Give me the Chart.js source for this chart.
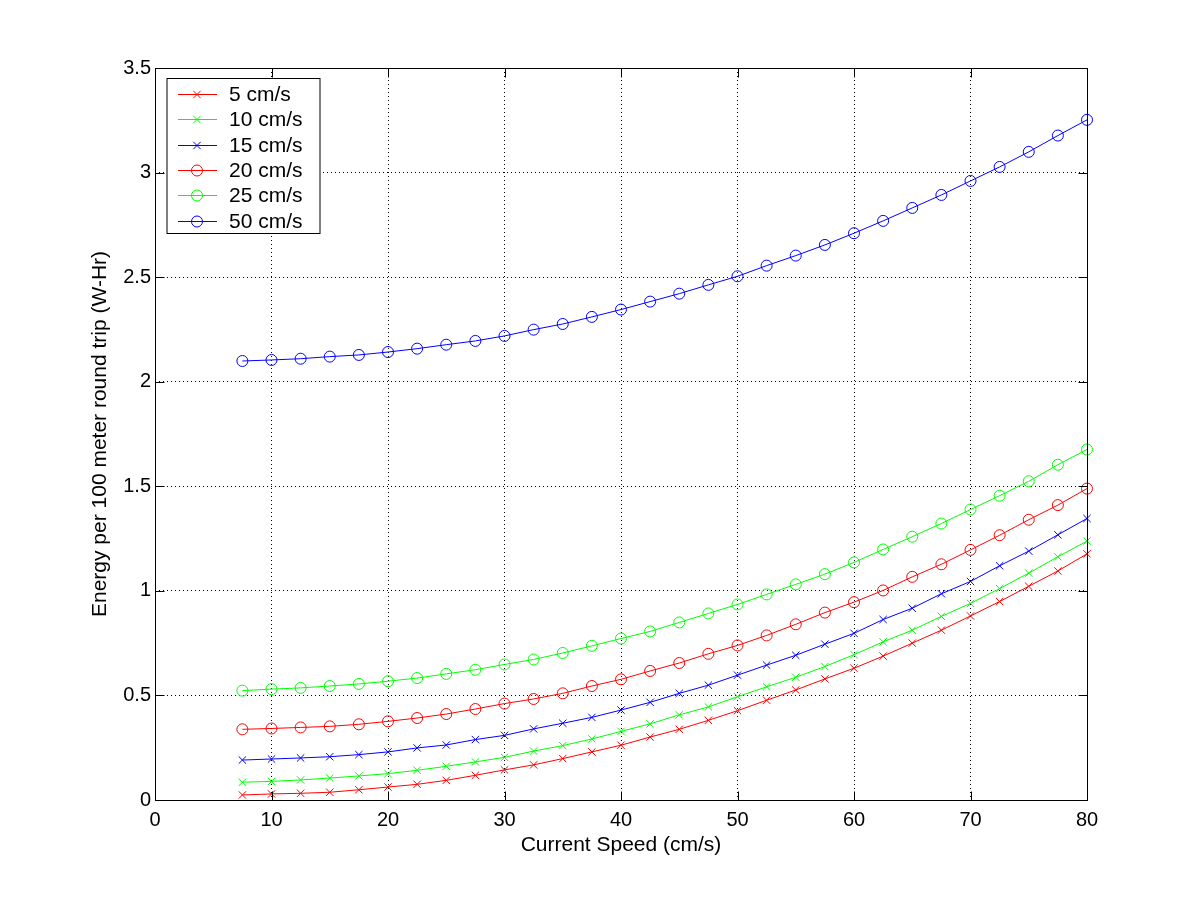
<!DOCTYPE html>
<html>
<head>
<meta charset="utf-8">
<title>Energy per 100 meter round trip</title>
<script src="https://cdn.jsdelivr.net/npm/chart.js@4/dist/chart.umd.min.js"></script>
<style>
html,body{margin:0;padding:0;background:#fff;}
#chart{display:block;background:#fff;}
</style>
</head>
<body>
<canvas id="chart" width="1200" height="900"></canvas>
<script>
// current speed (cm/s)
const speeds = [7.5,10,12.5,15,17.5,20,22.5,25,27.5,30,32.5,35,37.5,40,42.5,45,47.5,50,52.5,55,57.5,60,62.5,65,67.5,70,72.5,75,77.5,80];

const seriesNames = ["5 cm/s","10 cm/s","15 cm/s","20 cm/s","25 cm/s","50 cm/s"];

// energy (W-Hr)
const e5  = [0.024,0.029,0.032,0.037,0.049,0.062,0.075,0.094,0.118,0.144,0.168,0.198,0.230,0.262,0.301,0.338,0.381,0.427,0.477,0.526,0.579,0.630,0.688,0.750,0.812,0.880,0.949,1.022,1.095,1.177];
const e10 = [0.085,0.089,0.096,0.105,0.115,0.126,0.142,0.161,0.182,0.204,0.234,0.260,0.292,0.328,0.364,0.407,0.445,0.494,0.541,0.587,0.638,0.695,0.756,0.812,0.878,0.940,1.011,1.085,1.163,1.238];
const e15 = [0.191,0.196,0.201,0.207,0.217,0.230,0.249,0.263,0.289,0.309,0.340,0.367,0.395,0.430,0.467,0.510,0.549,0.597,0.645,0.692,0.745,0.797,0.863,0.917,0.986,1.045,1.120,1.190,1.268,1.346];
const e20 = [0.338,0.342,0.347,0.352,0.362,0.376,0.392,0.411,0.435,0.461,0.483,0.510,0.545,0.577,0.617,0.655,0.699,0.739,0.787,0.840,0.896,0.946,1.002,1.067,1.127,1.196,1.266,1.340,1.410,1.489];
const e25 = [0.523,0.530,0.536,0.545,0.555,0.568,0.583,0.603,0.623,0.648,0.672,0.703,0.737,0.772,0.806,0.849,0.892,0.935,0.983,1.031,1.080,1.136,1.198,1.259,1.322,1.389,1.455,1.524,1.603,1.676];
const e50 = [2.099,2.104,2.110,2.120,2.128,2.142,2.158,2.177,2.195,2.219,2.249,2.276,2.310,2.345,2.383,2.421,2.463,2.504,2.555,2.603,2.654,2.710,2.769,2.831,2.893,2.960,3.027,3.099,3.177,3.252];

const xTickLabels = ["0","10","20","30","40","50","60","70","80"];
const yTickLabels = ["0","0.5","1","1.5","2","2.5","3","3.5"];

const FONT = "'Liberation Sans', Arial, Helvetica, sans-serif";

const lineColors = ["#ff0000","#00ff00","#0000ff","#ff0000","#00ff00","#0000ff"];
const markers = ["crossRot","crossRot","crossRot","circle","circle","circle"];

function makeSet(i, vals){
return{
label:seriesNames[i],
data:vals.map((v,k)=>({x:speeds[k],y:v})),
borderColor:lineColors[i],
borderWidth:1,
pointStyle:markers[i],
pointRadius:markers[i]==="circle"?5.5:5.2,
pointBorderWidth:1,
pointBorderColor:lineColors[i],
pointBackgroundColor:"rgba(0,0,0,0)",
pointHoverRadius:5,
tension:0,
fill:false,
clip:false
};
}

// box around the axes, inward ticks and the legend (matlab style)
const boxPlugin = {
id:"boxTicks",
afterDraw(chart){
const {ctx, chartArea:a, scales:{x,y}} = chart;
const L=Math.round(a.left)+0.5, R=Math.round(a.right)+0.5;
const T=Math.round(a.top)+0.5, B=Math.round(a.bottom)+0.5;
const tl=9;
ctx.save();
ctx.strokeStyle="#000";
ctx.lineWidth=1;
ctx.setLineDash([]);
ctx.beginPath();
x.ticks.forEach(t=>{
const px=Math.round(x.getPixelForValue(t.value))+0.5;
ctx.moveTo(px,B);ctx.lineTo(px,B-tl);
ctx.moveTo(px,T);ctx.lineTo(px,T+tl);
});
y.ticks.forEach(t=>{
const py=Math.round(y.getPixelForValue(t.value))+0.5;
ctx.moveTo(L,py);ctx.lineTo(L+tl,py);
ctx.moveTo(R,py);ctx.lineTo(R-tl,py);
});
ctx.stroke();
ctx.strokeRect(L,T,R-L,B-T);

// legend
const lx=L+11.5, ly=T+10, lw=153, lh=155;
ctx.fillStyle="#fff";
ctx.fillRect(lx,ly,lw,lh);
ctx.strokeRect(lx,ly,lw,lh);
ctx.font="21px "+FONT;
ctx.textBaseline="middle";
ctx.textAlign="left";
chart.data.datasets.forEach((ds,i)=>{
const ry=Math.round(ly+15.5+i*25.3)+0.5;
ctx.strokeStyle=ds.borderColor;
ctx.beginPath();
ctx.moveTo(lx+11,ry);ctx.lineTo(lx+50,ry);
ctx.stroke();
const mx=lx+30;
ctx.beginPath();
if(ds.pointStyle==="circle"){
ctx.arc(mx,ry,5.5,0,Math.PI*2);
}else{
const d=3.7;
ctx.moveTo(mx-d,ry-d);ctx.lineTo(mx+d,ry+d);
ctx.moveTo(mx+d,ry-d);ctx.lineTo(mx-d,ry+d);
}
ctx.stroke();
ctx.fillStyle="#000";
ctx.fillText(ds.label,lx+62,ry+1);
});
ctx.restore();
}
};

const canvas=document.getElementById("chart");

new Chart(canvas,{
type:"line",
data:{
datasets:[
makeSet(0,e5),
makeSet(1,e10),
makeSet(2,e15),
makeSet(3,e20),
makeSet(4,e25),
makeSet(5,e50)
]
},
options:{
responsive:false,
animation:false,
devicePixelRatio:1,
layout:{padding:{top:68,right:113,bottom:0,left:0}},
plugins:{
legend:{display:false},
tooltip:{enabled:false}
},
scales:{
x:{
type:"linear",
min:0,max:80,
afterFit(s){s.height=100;},
ticks:{stepSize:10,color:"#000",padding:8,font:{family:FONT,size:20},
callback:(v,i)=>xTickLabels[i]},
grid:{color:"#000",lineWidth:1,drawTicks:false},
border:{display:false,dash:[1,3]},
title:{display:true,text:"Current Speed (cm/s)",color:"#000",
font:{family:FONT,size:21},padding:{top:0,bottom:42}}
},
y:{
type:"linear",
min:0,max:3.5,
afterFit(s){s.width=155;},
ticks:{stepSize:0.5,color:"#000",padding:4,font:{family:FONT,size:20},
callback:(v,i)=>yTickLabels[i]},
grid:{color:"#000",lineWidth:1,drawTicks:false},
border:{display:false,dash:[1,3]},
title:{display:true,text:"Energy per 100 meter round trip (W-Hr)",color:"#000",
font:{family:FONT,size:21},padding:{top:88,bottom:0}}
}
}
},
plugins:[boxPlugin]
});
</script>
</body>
</html>
